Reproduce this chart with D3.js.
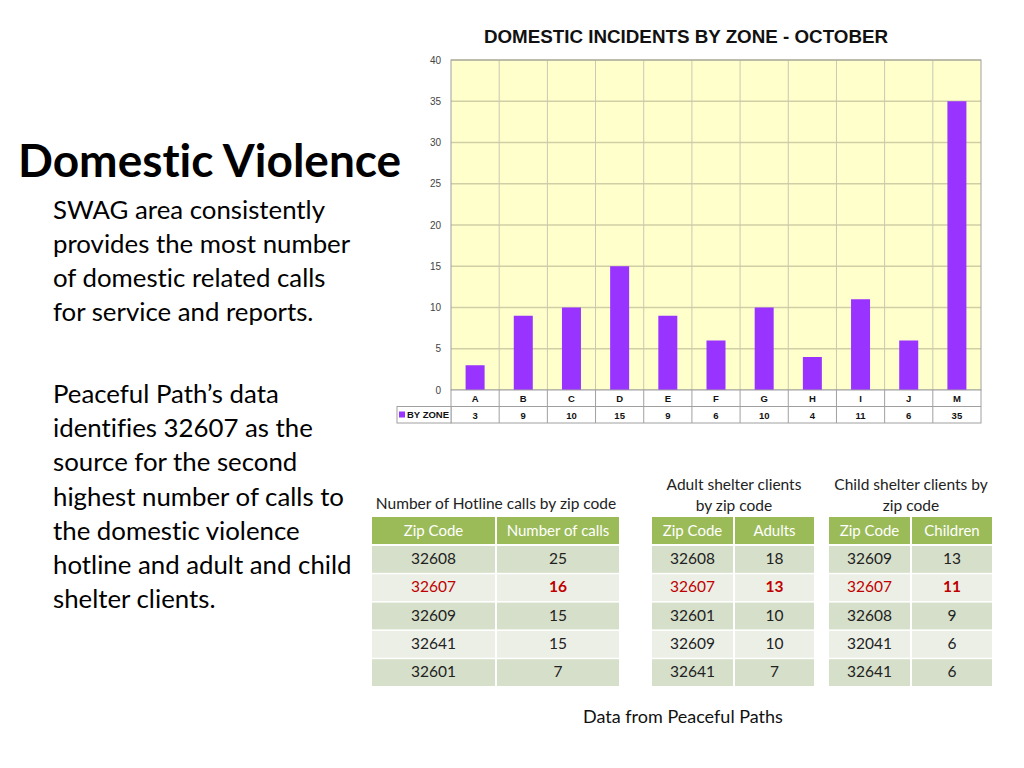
<!DOCTYPE html>
<meta charset="utf-8">
<style>
body { margin: 0; background: #fff; }
text { font-family: Lato, "Open Sans", sans-serif; font-variant-ligatures: none; }
.arial { font-family: Arial, "Liberation Sans", sans-serif; }
</style>
<body>
<svg id="slide" width="1024" height="768"></svg>
<script src="https://cdnjs.cloudflare.com/ajax/libs/d3/7.8.5/d3.min.js"></script>
<script>

// chart data
var zones = ["A", "B", "C", "D", "E", "F", "G", "H", "I", "J", "M"];
var zoneCounts = [3, 9, 10, 15, 9, 6, 10, 4, 11, 6, 35];
var yTicks = [0, 5, 10, 15, 20, 25, 30, 35, 40];

// table data
var hotlineZips = ["32608", "32607", "32609", "32641", "32601"];
var hotlineCalls = [25, 16, 15, 15, 7];
var adultZips = ["32608", "32607", "32601", "32609", "32641"];
var adultCounts = [18, 13, 10, 10, 7];
var childZips = ["32609", "32607", "32608", "32041", "32641"];
var childCounts = [13, 11, 9, 6, 6];

var bodyLines1 = ["SWAG area consistently", "provides the most number",
                  "of domestic related calls", "for service and reports."];
var bodyLines2 = ["Peaceful Path\u2019s data", "identifies 32607 as the",
                  "source for the second", "highest number of calls to",
                  "the domestic violence", "hotline and adult and child",
                  "shelter clients."];

var svg = d3.select("#slide");

// left text block
svg.append("text")
   .attr("x", 18).attr("y", 177)
   .attr("font-size", 46).attr("font-weight", "bold")
   .attr("fill", "#000")
   .text("Domestic Violence");

svg.selectAll("text.b1").data(bodyLines1).enter().append("text")
   .attr("class", "b1")
   .attr("x", 53).attr("y", function(d, i) { return 219 + i * 34; })
   .attr("font-size", 25.8).attr("fill", "#000")
   .text(function(d) { return d; });

svg.selectAll("text.b2").data(bodyLines2).enter().append("text")
   .attr("class", "b2")
   .attr("x", 53).attr("y", function(d, i) { return 403 + i * 34.2; })
   .attr("font-size", 25.8).attr("fill", "#000")
   .text(function(d) { return d; });

// bar chart
var pLeft = 451, pRight = 981, pTop = 60, pBottom = 390;

var x = d3.scaleBand().domain(zones).range([pLeft, pRight]).paddingInner(0).paddingOuter(0);
var y = d3.scaleLinear().domain([0, 40]).range([pBottom, pTop]);
var barW = 19;

svg.append("text")
   .attr("class", "arial")
   .attr("x", 686).attr("y", 43)
   .attr("text-anchor", "middle")
   .attr("font-size", 18.8).attr("font-weight", "bold")
   .attr("fill", "#111")
   .text("DOMESTIC INCIDENTS BY ZONE - OCTOBER");

svg.append("rect")
   .attr("x", pLeft).attr("y", pTop)
   .attr("width", pRight - pLeft).attr("height", pBottom - pTop)
   .attr("fill", "#ffffcc");

// horizontal grid
svg.selectAll("line.hg").data(yTicks.slice(1)).enter().append("line")
   .attr("x1", pLeft).attr("x2", pRight)
   .attr("y1", function(d) { return y(d); })
   .attr("y2", function(d) { return y(d); })
   .attr("stroke", "#cfcfa6").attr("stroke-width", 1.5);

// vertical grid at band edges
svg.selectAll("line.vg").data(zones.slice(1)).enter().append("line")
   .attr("y1", pTop).attr("y2", pBottom)
   .attr("x1", function(d) { return x(d); })
   .attr("x2", function(d) { return x(d); })
   .attr("stroke", "#c8c8b4").attr("stroke-width", 1);

svg.append("rect")
   .attr("x", pLeft).attr("y", pTop)
   .attr("width", pRight - pLeft).attr("height", pBottom - pTop)
   .attr("fill", "none").attr("stroke", "#a0a0a0");

svg.selectAll("rect.bar").data(zoneCounts).enter().append("rect")
   .attr("class", "bar")
   .attr("x", function(d, i) { return x(zones[i]) + x.bandwidth() / 2 - barW / 2; })
   .attr("y", function(d) { return y(d); })
   .attr("width", barW)
   .attr("height", function(d) { return y(0) - y(d); })
   .attr("fill", "#9933ff");

var yAxis = d3.axisLeft(y).tickValues(yTicks).tickSize(0).tickPadding(10);
var ya = svg.append("g").attr("transform", "translate(" + pLeft + ",0)").call(yAxis);
ya.select(".domain").remove();
ya.selectAll("text").attr("class", "arial").attr("font-size", 10).attr("fill", "#444");

// data table under chart
var rowH = 16.5;
svg.append("rect")
   .attr("x", pLeft).attr("y", pBottom)
   .attr("width", pRight - pLeft).attr("height", rowH * 2)
   .attr("fill", "#fff").attr("stroke", "#a0a0a0");
svg.append("rect")
   .attr("x", 397).attr("y", pBottom + rowH)
   .attr("width", pLeft - 397).attr("height", rowH)
   .attr("fill", "#fff").attr("stroke", "#a0a0a0");
svg.append("line")
   .attr("x1", pLeft).attr("x2", pRight)
   .attr("y1", pBottom + rowH).attr("y2", pBottom + rowH)
   .attr("stroke", "#a0a0a0");
svg.selectAll("line.tv").data(zones.slice(1)).enter().append("line")
   .attr("y1", pBottom).attr("y2", pBottom + rowH * 2)
   .attr("x1", function(d) { return x(d); })
   .attr("x2", function(d) { return x(d); })
   .attr("stroke", "#a0a0a0");

svg.selectAll("text.zl").data(zones).enter().append("text")
   .attr("class", "arial")
   .attr("x", function(d) { return x(d) + x.bandwidth() / 2; })
   .attr("y", pBottom + 12)
   .attr("text-anchor", "middle")
   .attr("font-size", 9.5).attr("font-weight", "bold").attr("fill", "#111")
   .text(function(d) { return d; });

svg.selectAll("text.zv").data(zoneCounts).enter().append("text")
   .attr("class", "arial")
   .attr("x", function(d, i) { return x(zones[i]) + x.bandwidth() / 2; })
   .attr("y", pBottom + rowH + 12)
   .attr("text-anchor", "middle")
   .attr("font-size", 9.5).attr("font-weight", "bold").attr("fill", "#111")
   .text(function(d) { return d; });

svg.append("rect")
   .attr("x", 399).attr("y", pBottom + rowH + 5)
   .attr("width", 6).attr("height", 6)
   .attr("fill", "#9933ff");
svg.append("text")
   .attr("class", "arial")
   .attr("x", 407).attr("y", pBottom + rowH + 11.5)
   .attr("font-size", 9.5).attr("font-weight", "bold").attr("fill", "#111")
   .text("BY ZONE");

// green tables
function drawTable(x0, colW, titles, header, zips, vals) {
  var g = svg.append("g");
  var cx = x0 + colW[0] + 1;
  titles.forEach(function(t, i) {
    g.append("text")
     .attr("x", cx).attr("y", (titles.length === 1 ? 509 : 490 + i * 21))
     .attr("text-anchor", "middle")
     .attr("font-size", 15.5).attr("fill", "#222")
     .text(t);
  });
  var xs = [x0, x0 + colW[0] + 2];
  var hy = 517, hh = 27, ry = 546, rh = 28.3;
  header.forEach(function(h, c) {
    g.append("rect").attr("x", xs[c]).attr("y", hy)
     .attr("width", colW[c]).attr("height", hh).attr("fill", "#9bbb59");
    g.append("text").attr("x", xs[c] + colW[c] / 2).attr("y", hy + 18.5)
     .attr("text-anchor", "middle").attr("font-size", 15).attr("fill", "#fff")
     .text(h);
  });
  zips.forEach(function(z, r) {
    var cells = [z, vals[r]];
    var red = z === "32607";
    cells.forEach(function(v, c) {
      g.append("rect").attr("x", xs[c]).attr("y", ry + r * rh)
       .attr("width", colW[c]).attr("height", rh - 1.5)
       .attr("fill", r % 2 === 0 ? "#d6dfc9" : "#ebefe6");
      g.append("text").attr("x", xs[c] + colW[c] / 2).attr("y", ry + r * rh + 18)
       .attr("text-anchor", "middle").attr("font-size", 15.5)
       .attr("font-weight", red && c === 1 ? "bold" : "normal")
       .attr("fill", red ? "#c00000" : "#222")
       .text(v);
    });
  });
}

drawTable(372, [123, 122], ["Number of Hotline calls by zip code"],
          ["Zip Code", "Number of calls"], hotlineZips, hotlineCalls);
drawTable(652, [81, 79], ["Adult shelter clients", "by zip code"],
          ["Zip Code", "Adults"], adultZips, adultCounts);
drawTable(829, [81, 80], ["Child shelter clients by", "zip code"],
          ["Zip Code", "Children"], childZips, childCounts);

svg.append("text")
   .attr("x", 583).attr("y", 723)
   .attr("font-size", 18).attr("fill", "#111")
   .text("Data from Peaceful Paths");

</script>
</body>
